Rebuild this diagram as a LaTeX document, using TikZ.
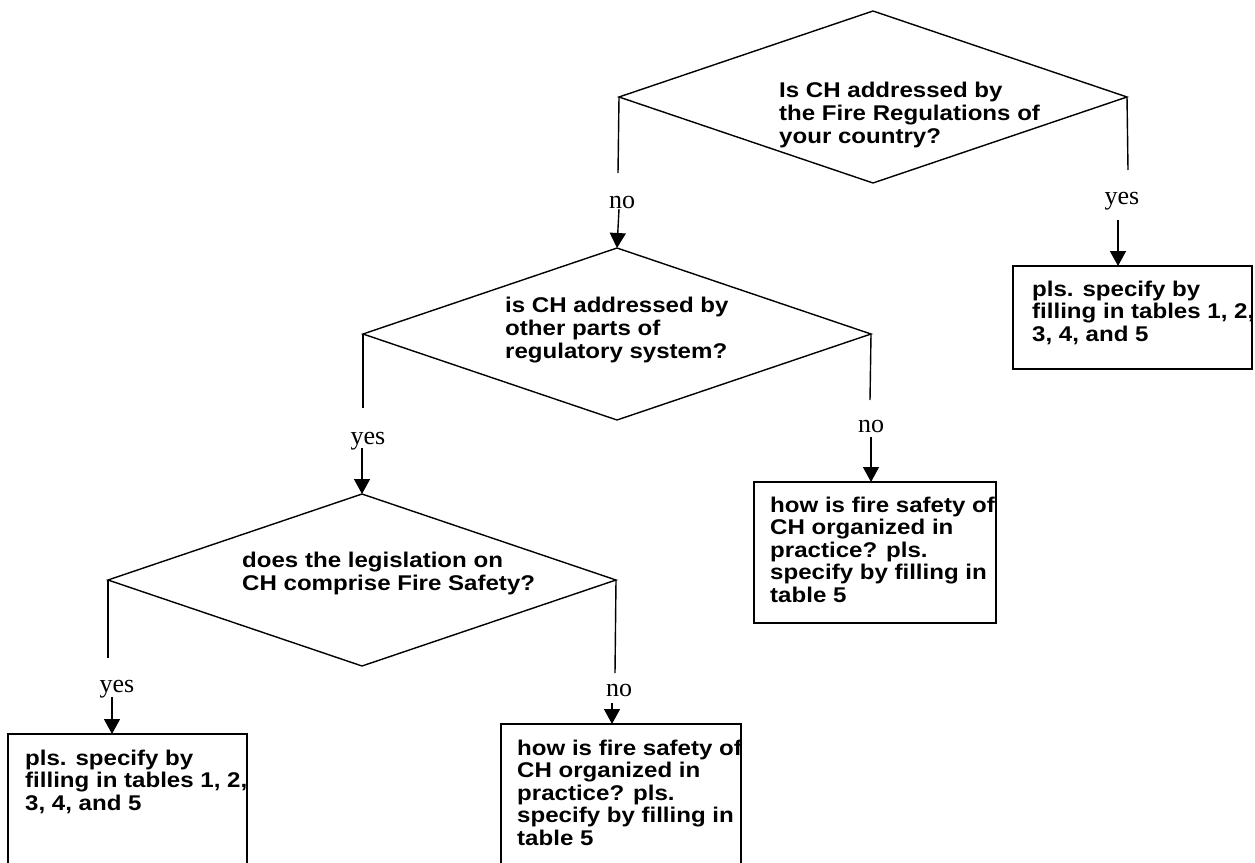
\documentclass[tikz,border=0pt]{standalone}
\usepackage{fontspec}
\usetikzlibrary{shapes.geometric,arrows.meta}
\newfontfamily\qfont[FakeStretch=1.13]{Liberation Sans}
\newfontfamily\lfont{Liberation Serif}
\newcommand\qlines[1]{\begin{tabular}[t]{@{}l@{}}#1\end{tabular}}
\begin{document}
\begin{tikzpicture}[x=1pt,y=-1pt,
  dia/.style={diamond, draw, line width=1.4pt, minimum width=508pt, minimum height=172pt, inner sep=0pt, outer sep=0pt},
  boxst/.style={draw, line width=1.4pt, anchor=north west, inner sep=0pt, outer sep=0pt},
  qt/.style={anchor=base west, inner sep=0pt, font=\qfont\bfseries\fontsize{21.3}{23}\selectfont},
  bt/.style={anchor=base west, inner sep=0pt, font=\qfont\bfseries\fontsize{21.3}{22.5}\selectfont},
  lab/.style={anchor=base, inner sep=0pt, font=\lfont\fontsize{26}{26}\selectfont},
  conn/.style={line width=1.4pt},
  arr/.style={line width=1.4pt, -{Triangle[length=15pt,width=16pt]}}]
\useasboundingbox (0,0) rectangle (1255,862);
\clip (0,0) rectangle (1255,862);
\fill[white] (0,0) rectangle (1255,862);

% diamonds
\node[dia] (d1) at (873,97) {};
\node[dia] (d2) at (617,334) {};
\node[dia] (d3) at (362,580) {};

\node[qt] (t1) at (779,97) {\qlines{Is CH addressed by\\the Fire Regulations of\\your country?}};
\node[qt] (t2) at (505,312) {\qlines{is CH addressed by\\other parts of\\regulatory system?}};
\node[qt] (t3) at (242,567) {\qlines{does the legislation on\\CH comprise Fire Safety?}};

% boxes
\node[boxst, minimum width=239pt, minimum height=103pt] (b1) at (1013,266) {};
\node[boxst, minimum width=242pt, minimum height=141pt] (b2) at (754,482) {};
\node[boxst, minimum width=239pt, minimum height=200pt] (b3) at (8,734) {};
\node[boxst, minimum width=240pt, minimum height=200pt] (b4) at (501,724) {};

\node[bt] (bt1) at (1032,296) {\qlines{pls. specify by\\filling in tables 1, 2,\\3, 4, and 5}};
\node[bt] (bt2) at (770,512) {\qlines{how is fire safety of\\CH organized in\\practice? pls.\\specify by filling in\\table 5}};
\node[bt] (bt3) at (25,765) {\qlines{pls. specify by\\filling in tables 1, 2,\\3, 4, and 5}};
\node[bt] (bt4) at (517,755) {\qlines{how is fire safety of\\CH organized in\\practice? pls.\\specify by filling in\\table 5}};

% labels
\node[lab] (l1) at (622,208) {no};
\node[lab] (l2) at (1122,204) {yes};
\node[lab] (l3) at (368,444) {yes};
\node[lab] (l4) at (871,432) {no};
\node[lab] (l5) at (117,692) {yes};
\node[lab] (l6) at (619,696) {no};

% line ends and arrow starts
\coordinate (e1) at (618,173);
\coordinate (e2) at (1128,170);
\coordinate (e3) at (363,408);
\coordinate (e4) at (870,400);
\coordinate (e5) at (108,658);
\coordinate (e6) at (615,673);
\coordinate (s1) at (619,209);
\coordinate (s2) at (1118,220);
\coordinate (s3) at (362,448);
\coordinate (s4) at (871,437);
\coordinate (s5) at (112,697);
\coordinate (s6) at (612,703);

\draw[conn] (d1.west) -- (e1);
\draw[conn] (d1.east) -- (e2);
\draw[conn] (d2.west) -- (e3);
\draw[conn] (d2.east) -- (e4);
\draw[conn] (d3.west) -- (e5);
\draw[conn] (d3.east) -- (e6);

\draw[arr] (s1) -- (d2.north);
\draw[arr] (s2) -- (s2 |- b1.north);
\draw[arr] (s3) -- (d3.north);
\draw[arr] (s4) -- (s4 |- b2.north);
\draw[arr] (s5) -- (s5 |- b3.north);
\draw[arr] (s6) -- (s6 |- b4.north);
\end{tikzpicture}
\end{document}
